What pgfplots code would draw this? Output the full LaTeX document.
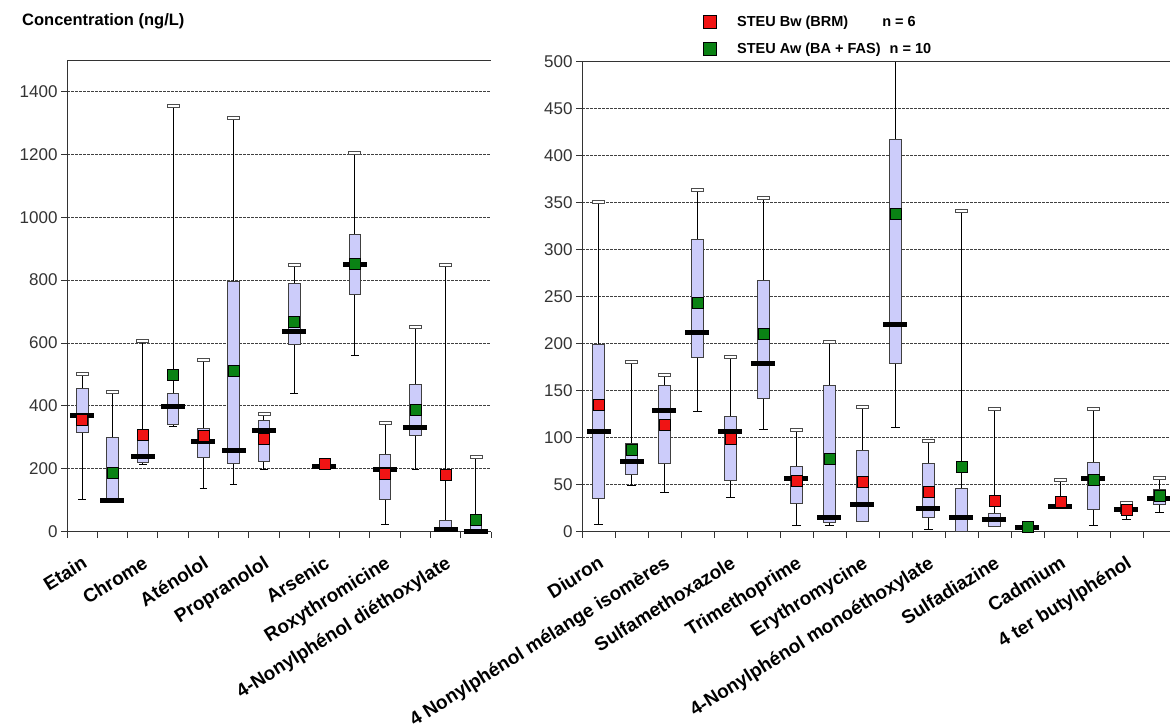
\documentclass[border=0pt]{standalone}
\usepackage{fontspec}
\setmainfont{Liberation Sans}
\usepackage{pgfplots}
\pgfplotsset{compat=1.18}
\usepgfplotslibrary{statistics}

\definecolor{boxfill}{RGB}{204,204,250}
\definecolor{mred}{RGB}{240,20,20}
\definecolor{mgreen}{RGB}{10,130,20}

% median bar and upper whisker cap
\pgfdeclareplotmark{medbar}{\pgfpathrectangle{\pgfpoint{-12pt}{-2.5pt}}{\pgfpoint{24pt}{5pt}}\pgfusepathqfill}
\pgfdeclareplotmark{capbox}{\pgfpathrectangle{\pgfpoint{-6pt}{-1.5pt}}{\pgfpoint{12pt}{3pt}}\pgfusepathqfillstroke}

% position, lower whisker, lower quartile, median, upper quartile, upper whisker
\newcommand{\bx}[6]{\addplot[forget plot, boxplot prepared={draw position=#1, lower whisker=#2,
  lower quartile=#3, median=#4, upper quartile=#5, upper whisker=#6}] coordinates {};}

\pgfplotsset{
  panel/.style={
    scale only axis, clip=false,
    axis x line=bottom, axis y line=left,
    axis line style={-, black!80, line width=0.9pt},
    tick align=outside, major tick length=6pt,
    tick style={black!80, line width=0.8pt},
    ymajorgrids,
    major grid style={black!75, line width=0.6pt, dash pattern=on 2.5pt off 1.5pt},
    ymin=0, xmin=-0.5,
    tick label style={font=\fontsize{17}{20}\selectfont, text=black!80},
    /pgf/number format/assume math mode=true,
    /pgf/number format/1000 sep={},
    xticklabels={},
    x tick label style={font=\bfseries\fontsize{19}{22}\selectfont, text=black,
      rotate=32, anchor=north east, inner sep=0pt, xshift=-10pt, yshift=-14pt},
    extra x tick style={tick style={draw=none}, grid=none},
    boxplot/draw direction=y,
    boxplot/whisker extend=0.25,
    boxplot/every box/.style={draw=black!75, fill=boxfill, line width=0.7pt},
    boxplot/every whisker/.style={black, line width=0.8pt},
    boxplot/every median/.style={black, line width=1pt},
  },
  caps/.style={forget plot, only marks, mark=capbox, mark options={fill=white, draw=black!70, line width=0.6pt}},
  meds/.style={forget plot, only marks, mark=medbar, mark options={fill=black}},
  redm/.style={forget plot, only marks, mark=square*, mark size=5.5pt, mark options={fill=mred, draw=none}},
  grnm/.style={forget plot, only marks, mark=square*, mark size=5.5pt, mark options={fill=mgreen, draw=none}},
}

\begin{document}
\begin{tikzpicture}
\useasboundingbox (0,0) rectangle (1170pt,-728pt);

\node[anchor=base west, font=\bfseries\fontsize{16.5}{19}\selectfont, inner sep=0pt] at (22pt,-25pt) {Concentration (ng/L)};

% left panel
\begin{axis}[panel,
  at={(67pt,-531.5pt)}, anchor=south west,
  width=424pt, height=471.5pt,
  xmax=13.5, ymax=1500,
  boxplot/box extend=0.38,
  ytick={0,200,...,1400},
  xtick={-0.5,0.5,...,13.5},
  extra x ticks={0,2,...,12},
  extra x tick labels={Etain,Chrome,Aténolol,Propranolol,Arsenic,Roxythromicine,4-Nonylphénol diéthoxylate},
]
\bx{0}{101}{316}{368}{456}{503}
\bx{1}{100}{100}{100}{300}{445}
\bx{2}{215}{220}{238}{320}{607}
\bx{3}{335}{342}{397}{441}{1355}
\bx{4}{136}{236}{285}{329}{546}
\bx{5}{149}{216}{259}{797}{1317}
\bx{6}{196}{222}{321}{354}{376}
\bx{7}{439}{594}{637}{791}{847}
\bx{8}{205}{205}{208}{211}{211}
\bx{9}{559}{754}{850}{945}{1206}
\bx{10}{24}{103}{196}{244}{346}
\bx{11}{199}{306}{332}{469}{651}
\bx{12}{0}{0}{7}{35}{847}
\bx{13}{0}{0}{0}{21}{237}
\addplot[caps] coordinates {(0,503) (1,445) (2,607) (3,1355) (4,546) (5,1317) (6,376)
  (7,847) (9,1206) (10,346) (11,651) (12,847) (13,237)};
\addplot[meds] coordinates {(0,368) (1,100) (2,238) (3,397) (4,285) (5,259) (6,321)
  (7,637) (8,208) (9,850) (10,196) (11,332) (12,7) (13,0)};
\addplot[redm] coordinates {(0,356) (2,308) (4,305) (6,294) (8,215) (10,184) (12,181)};
\addplot[grnm] coordinates {(1,186) (3,499) (5,510) (7,667) (9,853) (11,388) (13,39)};
\draw[black!80, line width=0.9pt] (rel axis cs:0,1) -- (rel axis cs:1,1);
\end{axis}

% right panel
\begin{axis}[panel,
  at={(582pt,-531.5pt)}, anchor=south west,
  width=588pt, height=470pt,
  xmax=17.32, ymax=500,
  boxplot/box extend=0.36,
  ytick={0,50,...,500},
  xtick={-0.5,0.5,...,16.5},
  extra x ticks={0,2,...,16},
  extra x tick labels={Diuron,4 Nonylphénol mélange isomères,Sulfamethoxazole,Trimethoprime,Erythromycine,4-Nonylphénol monoéthoxylate,Sulfadiazine,Cadmium,4 ter butylphénol},
  legend style={at={(0.205,1.102)}, anchor=north west, draw=none, fill=none,
    font=\bfseries\fontsize{14.5}{17}\selectfont, row sep=11pt, inner sep=0pt},
  legend cell align=left,
  legend image code/.code={\draw[#1] plot coordinates {(6.5pt,0pt)}; \path (0pt,0pt) (32pt,0pt);},
]
\addlegendimage{only marks, mark=square*, mark size=6.5pt, mark options={fill=mred, draw=none}}
\addlegendentry{STEU Bw (BRM)\hspace{34pt}n = 6}
\addlegendimage{only marks, mark=square*, mark size=6.5pt, mark options={fill=mgreen, draw=none}}
\addlegendentry{STEU Aw (BA + FAS)\hspace{9pt}n = 10}
\bx{0}{8}{35}{106}{199}{351}
\bx{1}{49}{61}{74}{94}{181}
\bx{2}{42}{73}{129}{155}{167}
\bx{3}{128}{185}{212}{311}{364}
\bx{4}{36}{54}{106}{123}{186}
\bx{5}{109}{142}{179}{267}{355}
\bx{6}{6}{30}{56}{69}{108}
\bx{7}{6}{10}{15}{156}{202}
\bx{8}{11}{11}{29}{86}{133}
\bx{9}{111}{179}{220}{417}{500}
\bx{10}{2}{15}{25}{73}{96}
\bx{11}{0}{0}{15}{46}{341}
\bx{12}{5}{6}{13}{19}{131}
\bx{13}{4}{4}{4}{4}{4}
\bx{14}{27}{27}{27}{28}{55}
\bx{15}{6}{24}{56}{74}{131}
\bx{16}{13}{19}{23}{30}{31}
\bx{17}{20}{29}{35}{45}{57}
\addplot[caps] coordinates {(0,351) (1,181) (2,167) (3,364) (4,186) (5,355) (6,108)
  (7,202) (8,133) (10,96) (11,341) (12,131) (14,55) (15,131) (16,31) (17,57)};
\addplot[meds] coordinates {(0,106) (1,74) (2,129) (3,212) (4,106) (5,179) (6,56) (7,15)
  (8,29) (9,220) (10,25) (11,15) (12,13) (13,4) (14,27) (15,56) (16,23) (17,35)};
\addplot[redm] coordinates {(0,135) (2,114) (4,99) (6,54) (8,53) (10,42) (12,33) (14,32) (16,23)};
\addplot[grnm] coordinates {(1,87) (3,243) (5,210) (7,77) (9,338) (11,69) (13,5) (15,55) (17,38)};
\draw[black!80, line width=0.9pt] (rel axis cs:0,1) -- (rel axis cs:1,1);
\end{axis}
\end{tikzpicture}
\end{document}
